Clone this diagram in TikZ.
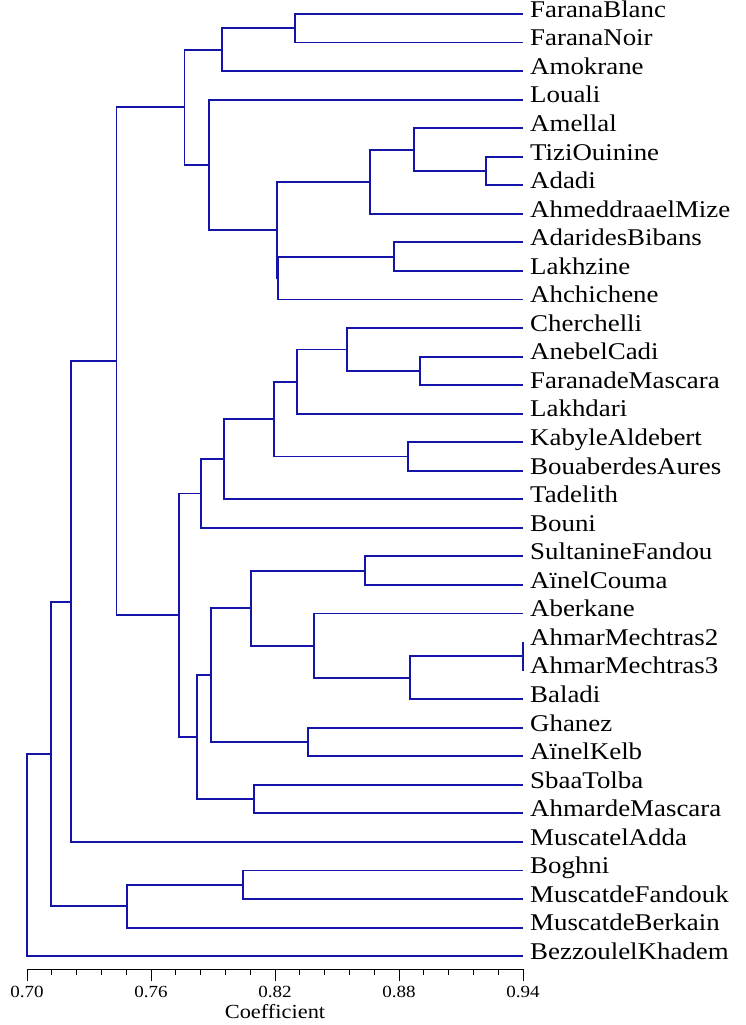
\documentclass[tikz,border=0pt]{standalone}
\usepackage{fontspec}
\setmainfont{Liberation Serif}[FakeStretch=1.12]
\usepackage{xcolor}
\usepackage{tikz}
\definecolor{treeblue}{RGB}{20,20,170}
\tikzset{
  branch/.style={draw=treeblue,line width=1.9pt},
  leaf/.style={anchor=west,inner xsep=7pt,inner ysep=0pt,text height=0.66em,text depth=0pt,font=\fontsize{24}{24}\selectfont},
  ticklabel/.style={font=\fontsize{17}{17}\selectfont,inner sep=0pt}
}

\begin{document}
\begin{tikzpicture}[x=1pt,y=1pt]
\useasboundingbox (0,0) rectangle (745,1025);
\node[leaf] (faranablanc) at (523,1011.00) {FaranaBlanc};
\node[leaf] (farananoir) at (523,982.45) {FaranaNoir};
\node[leaf] (amokrane) at (523,953.90) {Amokrane};
\node[leaf] (louali) at (523,925.35) {Louali};
\node[leaf] (amellal) at (523,896.80) {Amellal};
\node[leaf] (tiziouinine) at (523,868.25) {TiziOuinine};
\node[leaf] (adadi) at (523,839.70) {Adadi};
\node[leaf] (ahmeddraa) at (523,811.15) {AhmeddraaelMize};
\node[leaf] (adarides) at (523,782.60) {AdaridesBibans};
\node[leaf] (lakhzine) at (523,754.05) {Lakhzine};
\node[leaf] (ahchichene) at (523,725.50) {Ahchichene};
\node[leaf] (cherchelli) at (523,696.95) {Cherchelli};
\node[leaf] (anebelcadi) at (523,668.40) {AnebelCadi};
\node[leaf] (faranademascara) at (523,639.85) {FaranadeMascara};
\node[leaf] (lakhdari) at (523,611.30) {Lakhdari};
\node[leaf] (kabyle) at (523,582.75) {KabyleAldebert};
\node[leaf] (bouaberdes) at (523,554.20) {BouaberdesAures};
\node[leaf] (tadelith) at (523,525.65) {Tadelith};
\node[leaf] (bouni) at (523,497.10) {Bouni};
\node[leaf] (sultanine) at (523,468.55) {SultanineFandou};
\node[leaf] (ainelcouma) at (523,440.00) {AïnelCouma};
\node[leaf] (aberkane) at (523,411.45) {Aberkane};
\node[leaf] (mechtrastwo) at (523,382.90) {AhmarMechtras2};
\node[leaf] (mechtrasthree) at (523,354.35) {AhmarMechtras3};
\node[leaf] (baladi) at (523,325.80) {Baladi};
\node[leaf] (ghanez) at (523,297.25) {Ghanez};
\node[leaf] (ainelkelb) at (523,268.70) {AïnelKelb};
\node[leaf] (sbaatolba) at (523,240.15) {SbaaTolba};
\node[leaf] (ahmardemascara) at (523,211.60) {AhmardeMascara};
\node[leaf] (muscateladda) at (523,183.05) {MuscatelAdda};
\node[leaf] (boghni) at (523,154.50) {Boghni};
\node[leaf] (muscatfandouk) at (523,125.95) {MuscatdeFandouk};
\node[leaf] (muscatberkain) at (523,97.40) {MuscatdeBerkain};
\node[leaf] (bezzoul) at (523,68.85) {BezzoulelKhadem};
\coordinate (farana) at (294.8,996.73);
\coordinate (faranaamok) at (222.1,975.31);
\coordinate (tiziadadi) at (486.0,853.98);
\coordinate (amellalgrp) at (413.7,875.39);
\coordinate (ahmedgrp) at (370.4,843.27);
\coordinate (adaridesgrp) at (393.7,768.33);
\coordinate (ahchgrp) at (278.2,746.91);
\coordinate (kabylegrp) at (276.7,795.09);
\coordinate (louagrp) at (209.2,860.22);
\coordinate (topgrp) at (184.5,917.77);
\coordinate (anebgrp) at (420.3,654.13);
\coordinate (chergrp) at (346.6,675.54);
\coordinate (lakhdgrp) at (296.7,643.42);
\coordinate (aldegrp) at (408.0,568.48);
\coordinate (cheraldgrp) at (274.4,605.95);
\coordinate (tadegrp) at (224.4,565.80);
\coordinate (bounigrp) at (200.7,531.45);
\coordinate (sultgrp) at (364.7,454.28);
\coordinate (mechgrp) at (523,368.63);
\coordinate (baladigrp) at (409.9,347.21);
\coordinate (aberkgrp) at (314.3,379.33);
\coordinate (sultaberkgrp) at (250.6,416.80);
\coordinate (ghanezgrp) at (308.1,282.98);
\coordinate (ghaneztop) at (210.6,349.89);
\coordinate (sbaagrp) at (254.4,225.88);
\coordinate (sbaatop) at (196.9,287.88);
\coordinate (midgrp) at (178.8,409.67);
\coordinate (tabgrp) at (116.5,663.72);
\coordinate (addagrp) at (70.8,423.39);
\coordinate (boghgrp) at (243.0,140.23);
\coordinate (berkgrp) at (127.0,118.81);
\coordinate (muscgrp) at (51.4,271.10);
\coordinate (root) at (27.1,169.98);
\draw[branch] (faranablanc.west) -| (farana) |- (farananoir.west);
\draw[branch] (farana) -| (faranaamok) |- (amokrane.west);
\draw[branch] (tiziouinine.west) -| (tiziadadi) |- (adadi.west);
\draw[branch] (amellal.west) -| (amellalgrp) |- (tiziadadi);
\draw[branch] (amellalgrp) -| (ahmedgrp) |- (ahmeddraa.west);
\draw[branch] (adarides.west) -| (adaridesgrp) |- (lakhzine.west);
\draw[branch] (adaridesgrp) -| (ahchgrp) |- (ahchichene.west);
\draw[branch] (ahmedgrp) -| (kabylegrp) |- (ahchgrp);
\draw[branch] (louali.west) -| (louagrp) |- (kabylegrp);
\draw[branch] (faranaamok) -| (topgrp) |- (louagrp);
\draw[branch] (anebelcadi.west) -| (anebgrp) |- (faranademascara.west);
\draw[branch] (cherchelli.west) -| (chergrp) |- (anebgrp);
\draw[branch] (chergrp) -| (lakhdgrp) |- (lakhdari.west);
\draw[branch] (kabyle.west) -| (aldegrp) |- (bouaberdes.west);
\draw[branch] (lakhdgrp) -| (cheraldgrp) |- (aldegrp);
\draw[branch] (cheraldgrp) -| (tadegrp) |- (tadelith.west);
\draw[branch] (tadegrp) -| (bounigrp) |- (bouni.west);
\draw[branch] (sultanine.west) -| (sultgrp) |- (ainelcouma.west);
\draw[branch] (mechtrastwo.west) -- (mechtrasthree.west);
\draw[branch] (mechgrp) -| (baladigrp) |- (baladi.west);
\draw[branch] (aberkane.west) -| (aberkgrp) |- (baladigrp);
\draw[branch] (sultgrp) -| (sultaberkgrp) |- (aberkgrp);
\draw[branch] (ghanez.west) -| (ghanezgrp) |- (ainelkelb.west);
\draw[branch] (sultaberkgrp) -| (ghaneztop) |- (ghanezgrp);
\draw[branch] (sbaatolba.west) -| (sbaagrp) |- (ahmardemascara.west);
\draw[branch] (ghaneztop) -| (sbaatop) |- (sbaagrp);
\draw[branch] (bounigrp) -| (midgrp) |- (sbaatop);
\draw[branch] (topgrp) -| (tabgrp) |- (midgrp);
\draw[branch] (tabgrp) -| (addagrp) |- (muscateladda.west);
\draw[branch] (boghni.west) -| (boghgrp) |- (muscatfandouk.west);
\draw[branch] (boghgrp) -| (berkgrp) |- (muscatberkain.west);
\draw[branch] (addagrp) -| (muscgrp) |- (berkgrp);
\draw[branch] (muscgrp) -| (root) |- (bezzoul.west);
\draw[line width=0.8pt] (27.1,55.5) -- (523,55.5);
\foreach \k in {0,...,20} \draw[line width=1pt] (27.1+24.795*\k,55.5) -- ++(0,-6);
\foreach \k in {0,5,10,15,20} \draw[line width=1pt] (27.1+24.795*\k,55.5) -- ++(0,-12);
\node[ticklabel] (tseventy) at (27.1,33.3) {0.70};
\node[ticklabel] (tsevensix) at (151.1,33.3) {0.76};
\node[ticklabel] (teighttwo) at (275.1,33.3) {0.82};
\node[ticklabel] (teighteight) at (399.0,33.3) {0.88};
\node[ticklabel] (tninefour) at (523.0,33.3) {0.94};
\node[font=\fontsize{20}{20}\selectfont] (coef) at (275,13.3) {Coefficient};
\end{tikzpicture}
\end{document}
